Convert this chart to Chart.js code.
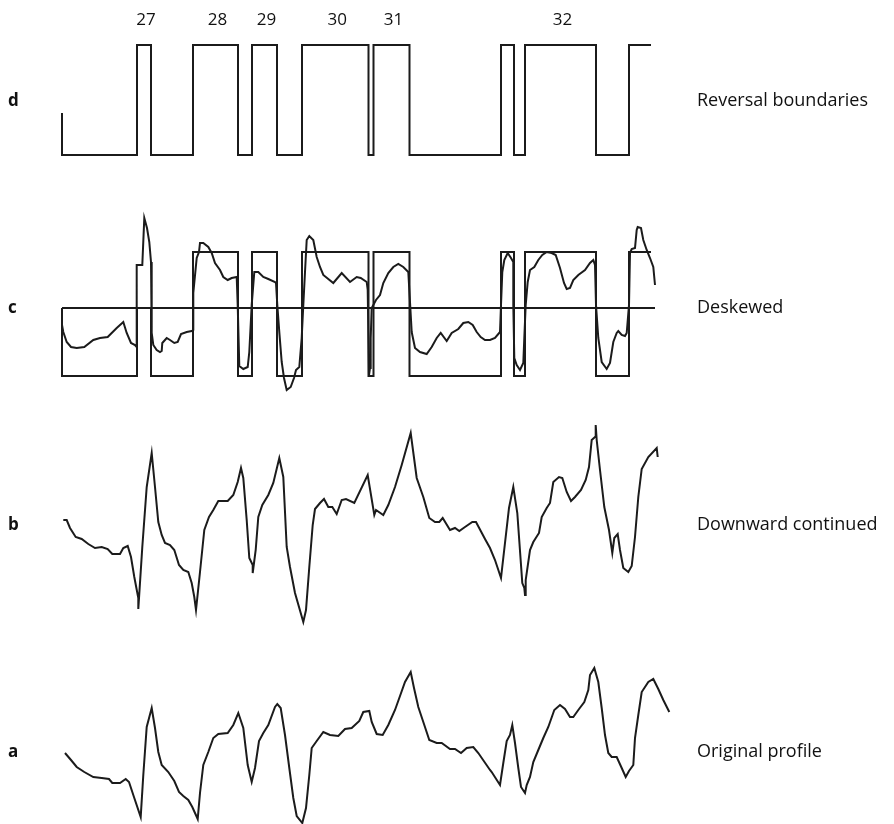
<!DOCTYPE html>
<html>
<head>
<meta charset="utf-8">
<script src="https://cdn.jsdelivr.net/npm/chart.js@4.4.1/dist/chart.umd.min.js"></script>
<style>
  html, body { margin: 0; padding: 0; background: #fff; }
  #wrap { position: relative; width: 894px; height: 824px; }
</style>
</head>
<body>
<div id="wrap"><canvas id="profilesChart"></canvas></div>
<script>
// distance along profile (x) and amplitude (y)

// reversal blocks: edges along the profile and the level of each block
const boundaries = [0, 75, 89, 131, 176, 190, 215, 240, 306.5, 311.5, 347.5, 439, 452, 463, 534, 567, 589];
const reversalLevels = [-55, 55, -55, 55, -55, 55, -55, 55, -55, 55, -55, 55, -55, 55, -55, 55];
const reversalStart = -13;
const deskewBoxLevels = [-68, 0, -68, 56, -68, 56, -68, 56, -68, 56, -68, 56, -68, 56, -68, 56];
const zeroLineEnd = 593;

// chron numbers and the block they belong to
const chronLabels = ['27', '28', '29', '30', '31', '32'];
const chronBlocks = [1, 3, 5, 7, 9, 13];

const deskewed = [
    [0, -17], [1.3, -24], [4.7, -34], [9, -39], [14.7, -40], [22.3, -39], [31.3, -32], [38, -30],
    [45.7, -29], [54.7, -20], [61.3, -14], [64.7, -25], [69, -35], [73, -37], [74.7, -39],
    [74.7, 43], [80.3, 43], [82.3, 90], [85, 80], [87.3, 66], [89, 46], [89.7, 16], [89.7, -25],
    [91.3, -37], [94.7, -42], [98, -44], [99.7, -43], [100.3, -35], [104.7, -30], [108, -32],
    [112.3, -35], [115.7, -34], [119, -26], [124.7, -24], [129.7, -23], [131.3, -22], [131.3, 15],
    [134.7, 50], [137, 56], [138, 65], [141.3, 65], [146.3, 61], [149.7, 55], [153, 45], [158, 38],
    [161.3, 31], [165.7, 28], [169.7, 30], [174.7, 31], [175.7, 3], [177.3, -58], [181.3, -61],
    [185.7, -59], [187.3, -44], [189.7, 3], [192.3, 36], [196.3, 36], [201.3, 31], [206.3, 29],
    [213, 26], [214, 25], [215.3, 3], [217.3, -24], [219.7, -54], [222, -70], [224.7, -82],
    [228.7, -79], [232, -70], [234, -62], [237.3, -59], [239.7, -30], [241.3, 3], [243, 36],
    [244.7, 68], [247.3, 72], [251.3, 68], [254.7, 51], [258, 41], [261.3, 33], [271.3, 25],
    [279.7, 35], [288, 26], [294.7, 31], [298.7, 30], [304.7, 26], [305.7, 18], [307, -67],
    [308, -60], [308.7, -30], [309.7, 0], [314, 8], [318, 13], [321.3, 25], [326.3, 35],
    [331.3, 41], [336.3, 44], [341.3, 41], [346.3, 36], [348, 6], [349.7, -24], [353, -40],
    [358, -44], [364.7, -46], [369.7, -39], [374.7, -30], [378.7, -25], [384.7, -33], [389.7, -25],
    [396.3, -21], [401.3, -15], [406.3, -14], [410.7, -17], [414.7, -24], [418.7, -29], [423, -32],
    [428, -32], [433, -30], [438, -24], [439, 3], [440.3, 36], [442.3, 48], [445.7, 55], [449, 50],
    [451.3, 46], [451.3, 3], [452.3, -50], [454.7, -57], [458, -62], [461.3, -55], [462.3, -30],
    [463.7, 3], [465.7, 26], [468, 38], [472.3, 41], [476.3, 48], [480.3, 53], [484.7, 56],
    [489.7, 55], [493.7, 53], [498, 40], [502, 25], [504.7, 19], [508, 20], [511.3, 28], [516.3, 33],
    [523, 38], [528, 45], [531.3, 48], [533, 43], [534, 3], [536.3, -30], [539.7, -54], [544.7, -61],
    [548, -55], [551.3, -34], [554.7, -25], [556.3, -23], [559.7, -27], [563, -28], [564.7, -25],
    [567, 3], [568, 55], [569.7, 59], [573, 60], [574.7, 78], [575.7, 81], [579, 80], [581.3, 68],
    [584.7, 58], [588, 50], [591.3, 41], [593, 23]
];

const downwardContinued = [
    [1.3, 5], [4.7, 5], [8, -3], [13.7, -12], [19.7, -14], [26.3, -19], [33, -23], [39.7, -22],
    [45.7, -24], [50.3, -29], [58, -29], [61.3, -23], [65.7, -21], [69, -32], [72.3, -52],
    [76.3, -73], [76.3, -84], [80.3, -22], [84.7, 38], [89.7, 72], [93, 38], [96.3, 3], [99.7, -10],
    [103, -18], [108, -20], [112.3, -25], [117, -40], [121.3, -45], [126.3, -47], [129.7, -58],
    [132.3, -72], [134, -85], [138, -47], [142.3, -5], [147, 8], [151.3, 15], [156.3, 24],
    [165.7, 24], [171.3, 30], [175.7, 43], [179, 57], [181.3, 47], [184.7, 5], [187.3, -33],
    [190.7, -40], [190.7, -48], [193.7, -25], [196.3, 8], [200.3, 20], [206.3, 30], [211.3, 42],
    [217.3, 67], [221.3, 48], [224.7, -22], [228, -42], [233, -68], [241.3, -97], [244, -85],
    [247.3, -42], [250.7, 0], [253, 16], [258, 22], [262, 26], [266.3, 18], [270.3, 18], [274.7, 11],
    [279.7, 25], [284, 26], [292.3, 22], [305.7, 50], [312.3, 10], [314, 15], [321.3, 10],
    [326.3, 20], [333, 38], [339.7, 60], [348.7, 92], [354.7, 47], [361.3, 28], [367.3, 7],
    [373, 3], [377.3, 3], [380.7, 7], [388, -5], [393, -3], [397.3, -6], [403, -2], [410.3, 3],
    [414, 3], [423, -14], [428, -23], [433, -35], [439, -53], [447, 17], [451.3, 38], [455.3, 12],
    [460.3, -58], [462.3, -63], [463, -70], [463.7, -55], [468, -25], [471.3, -17], [477, -8],
    [479.7, 8], [484.7, 17], [488, 22], [491.3, 43], [497, 48], [500.3, 47], [504.7, 33], [509, 24],
    [513, 28], [519, 35], [523.7, 45], [527, 58], [529.7, 85], [533, 88], [533.7, 100], [534.7, 85],
    [538, 55], [542.3, 18], [547, -5], [550.3, -28], [552.3, -13], [555.7, -9], [558, -25],
    [561.3, -43], [566.3, -47], [569.7, -41], [573, -12], [576.3, 28], [579.7, 56], [586.3, 68],
    [594.7, 77], [595.7, 68]
];

const originalProfile = [
    [3, -18], [9, -25], [14.7, -32], [22.3, -37], [31.3, -42], [39.7, -43], [47, -44], [50.3, -48],
    [58, -48], [63.7, -44], [67, -47], [72.3, -63], [78.7, -82], [81.3, -40], [84.7, 8], [89.7, 27],
    [93, 7], [96.3, -17], [99.7, -30], [106.3, -37], [112.3, -46], [117, -57], [121.3, -61],
    [126.3, -65], [130.3, -72], [135.7, -84], [138, -58], [141.3, -30], [146.3, -17], [151.3, -3],
    [156.3, 1], [165.7, 2], [171.3, 10], [176.3, 22], [181.3, 7], [185.7, -30], [189.7, -47],
    [193, -33], [197, -6], [201.3, 2], [206.3, 10], [213, 28], [215.3, 31], [218.7, 27], [223, 0],
    [227.3, -33], [231.3, -63], [234.7, -81], [240.3, -88], [244, -73], [247.3, -40], [249.7, -13],
    [254.7, -6], [261.3, 3], [268, 0], [276.3, -1], [283, 6], [289.7, 7], [297.3, 14], [301.3, 23],
    [307.3, 24], [309.7, 13], [314.7, 1], [320.7, 0], [326.3, 10], [333, 25], [338, 39], [343, 53],
    [348.7, 63], [352, 47], [356.3, 28], [361.3, 13], [367.3, -5], [374.7, -8], [379.7, -8],
    [388, -14], [393, -14], [399, -18], [404.7, -13], [411.3, -12], [416.3, -18], [428, -35],
    [429.7, -37], [438, -50], [441.3, -28], [444.7, -6], [448, 0], [450.3, 10], [453, -8],
    [456.3, -33], [459, -52], [463, -58], [464.7, -50], [468, -42], [471.3, -27], [476.3, -15],
    [481.3, -3], [486.3, 8], [492.3, 25], [498, 30], [503, 26], [508, 18], [511.3, 18], [516.3, 25],
    [522.3, 33], [526.3, 45], [528, 60], [532.3, 67], [536.3, 53], [539.7, 27], [543, 0],
    [546.3, -18], [549.7, -22], [554.7, -22], [559.7, -33], [563.7, -42], [567, -36], [571.3, -30],
    [573, -3], [576.3, 20], [579.7, 43], [586.3, 53], [591.3, 56], [596.3, 46], [601.3, 35],
    [607.3, 23]
];

// panel layout: vertical centre of each panel (page pixels) and its captions
const panels = [
    { key: 'd', name: 'Reversal boundaries', center: 100, labelY: 101 },
    { key: 'c', name: 'Deskewed', center: 308, labelY: 308 },
    { key: 'b', name: 'Downward continued', center: 525, labelY: 525 },
    { key: 'a', name: 'Original profile', center: 735, labelY: 752 }
];
const H = 824;

function shift(points, panelIdx) {
    const off = H - panels[panelIdx].center;
    return points.map(p => ({ x: p[0], y: p[1] + off }));
}

function stepPath(levels, startLevel) {
    const pts = [[boundaries[0], startLevel]];
    levels.forEach((lv, i) => {
        pts.push([boundaries[i], lv]);
        pts.push([boundaries[i + 1], lv]);
    });
    return pts;
}

const lineStyle = {
    borderColor: '#1b1b1b',
    borderWidth: 2,
    pointRadius: 0,
    tension: 0,
    fill: false,
    borderJoinStyle: 'miter'
};

const datasets = [
    { label: 'Reversal boundaries', data: shift(stepPath(reversalLevels, reversalStart), 0) },
    { label: 'Deskewed blocks', data: shift(stepPath(deskewBoxLevels, 0), 1) },
    { label: 'Zero', data: shift([[0, 0], [zeroLineEnd, 0]], 1) },
    { label: 'Deskewed', data: shift(deskewed, 1) },
    { label: 'Downward continued', data: shift(downwardContinued, 2) },
    { label: 'Original profile', data: shift(originalProfile, 3) }
].map(ds => Object.assign({}, lineStyle, ds));

const captions = {
    id: 'captions',
    afterDraw(chart) {
        const ctx = chart.ctx;
        const xs = chart.scales.x;
        ctx.save();
        ctx.fillStyle = '#111';
        ctx.textBaseline = 'middle';

        // chron numbers above the reversal blocks
        ctx.font = '17px "Open Sans", sans-serif';
        ctx.textAlign = 'center';
        chronLabels.forEach((lab, i) => {
            const b = chronBlocks[i];
            const mid = (boundaries[b] + boundaries[b + 1]) / 2;
            ctx.fillText(lab, xs.getPixelForValue(mid) + 2, 20);
        });

        panels.forEach(p => {
            ctx.textAlign = 'left';
            ctx.font = 'bold 17px "Open Sans", sans-serif';
            ctx.fillText(p.key, 8, p.labelY);
            ctx.font = '18px "Open Sans", sans-serif';
            ctx.fillText(p.name, 697, p.labelY);
        });
        ctx.restore();
    }
};

new Chart(document.getElementById('profilesChart'), {
    type: 'line',
    data: { datasets: datasets },
    options: {
        responsive: true,
        maintainAspectRatio: false,
        animation: false,
        layout: { padding: 0 },
        scales: {
            x: { type: 'linear', min: -62, max: 832, display: false },
            y: { type: 'linear', min: 0, max: H, display: false }
        },
        plugins: {
            legend: { display: false },
            tooltip: { enabled: false }
        }
    },
    plugins: [captions]
});
</script>
</body>
</html>
